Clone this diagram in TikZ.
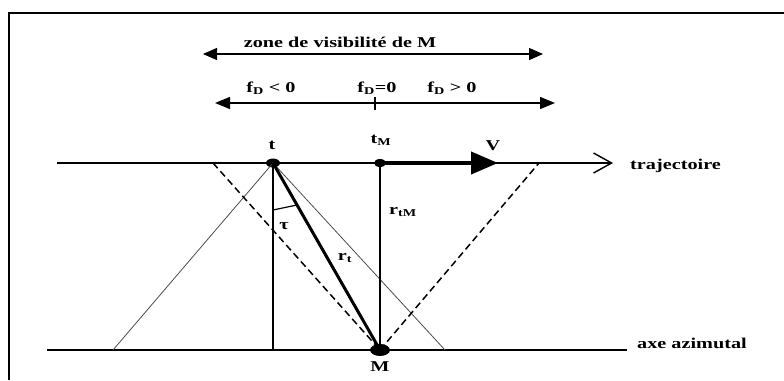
\documentclass[tikz,border=0pt]{standalone}
\usepackage{fontspec}
\setmainfont{Liberation Serif}[FakeStretch=1.35]
\usetikzlibrary{arrows.meta,shapes.geometric}
\begin{document}
\begin{tikzpicture}[x=1pt,y=-1pt,
  lbl/.style={font=\fontsize{15}{17}\selectfont\bfseries, inner sep=0pt},
  dotnode/.style={ellipse, fill=black, inner sep=0pt},
  hline/.style={line width=1.4pt},
  thinline/.style={line width=0.8pt, black!70},
  dashline/.style={line width=1.5pt, dash pattern=on 7pt off 4pt}
]
\useasboundingbox (0,0) rectangle (784,380);
% frame
\draw[line width=2pt] (9,380) -- (9,13) -- (784,13);

% top arrows
\coordinate (z1) at (203,54);
\coordinate (z2) at (543,54);
\draw[hline, {Triangle[length=14pt,width=12pt]}-{Triangle[length=14pt,width=12pt]}] (z1) -- (z2);
\node[lbl] (zone) at (340,42) {zone de visibilité de M};

\coordinate (f1) at (215,103);
\coordinate (f2) at (555,103);
\draw[hline, {Triangle[length=15pt,width=12pt]}-{Triangle[length=15pt,width=12pt]}] (f1) -- (f2);
\coordinate (k1) at (375,97);
\coordinate (k2) at (375,110);
\draw[line width=1.2pt] (k1) -- (k2);
\node[lbl] (fneg) at (271,88) {f\textsubscript{D} < 0};
\node[lbl] (fzero) at (377,88) {f\textsubscript{D}=0};
\node[lbl] (fpos) at (452,88) {f\textsubscript{D} > 0};

% points
\node[dotnode, minimum width=14pt, minimum height=9pt] (t) at (273,163) {};
\node[dotnode, minimum width=12pt, minimum height=8pt] (tM) at (380,163) {};
\node[dotnode, minimum width=20pt, minimum height=12pt] (M) at (380,350) {};

% trajectory and axis
\coordinate (tr0) at (57,163);
\coordinate (tr1) at (613,163);
\draw[hline, -{Straight Barb[length=18pt,width=20pt,line width=1.4pt]}] (tr0) -- (tr1);
\node[lbl, anchor=base west] (traj) at (630,169) {trajectoire};
\coordinate (ax0) at (47,350);
\coordinate (ax1) at (627,350);
\draw[hline] (ax0) -- (ax1);
\node[lbl, anchor=base west] (axe) at (637,348) {axe azimutal};

% cone lines
\coordinate (c1) at (113,350);
\coordinate (c2) at (445,350);
\draw[thinline] (t.center) -- (c1);
\draw[thinline] (t.center) -- (c2);
\coordinate (d1) at (213,163);
\coordinate (d2) at (539,163);
\draw[dashline] (d1) -- (M.center);
\draw[dashline] (M.center) -- (d2);

% verticals
\coordinate (tb) at (273,350);
\draw[hline] (t.center) -- (tb);
\draw[line width=1.8pt] (tM.center) -- (M.center);
% r_t
\draw[line width=3pt] (t.center) -- (M.center);
% angle tau
\coordinate (a1) at (273,210);
\coordinate (a2) at (297,205);
\draw[line width=1.2pt] (a1) -- (a2);
% V arrow
\coordinate (vtip) at (498,163);
\draw[line width=4pt, -{Triangle[length=27pt,width=22pt]}] (tM.center) -- (vtip);

% labels
\node[lbl] (tl) at (272,145) {t};
\node[lbl] (tMl) at (381,140) {t\textsubscript{M}};
\node[lbl] (Vl) at (493,146) {V};
\node[lbl] (taul) at (284,226) {τ};
\node[lbl] (rtMl) at (403,212) {r\textsubscript{tM}};
\node[lbl] (rtl) at (345,258) {r\textsubscript{t}};
\node[lbl] (Ml) at (380,367) {M};
\end{tikzpicture}
\end{document}
